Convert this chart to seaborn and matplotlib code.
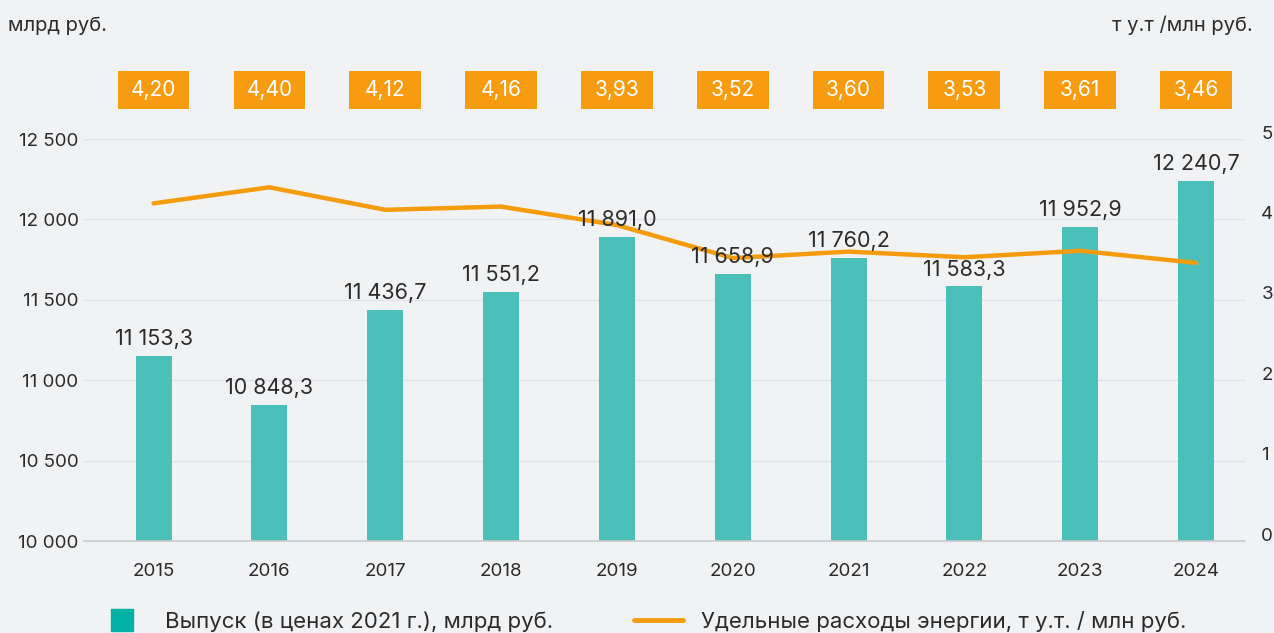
import pandas as pd
import seaborn as sns
import matplotlib.pyplot as plt
import matplotlib.transforms as mtransforms
from matplotlib.lines import Line2D
from matplotlib.patches import Rectangle

# Data
years = ['2015', '2016', '2017', '2018', '2019', '2020', '2021', '2022', '2023', '2024']
output = [11153.3, 10848.3, 11436.7, 11551.2, 11891.0, 11658.9, 11760.2, 11583.3, 11952.9, 12240.7]
intensity = [4.20, 4.40, 4.12, 4.16, 3.93, 3.52, 3.60, 3.53, 3.61, 3.46]

bar_color = '#4cbfba'
legend_bar_color = '#00b2a6'
line_color = '#f59c0d'
box_color = '#f79c10'
bg = '#f1f2f4'
text_color = '#2b2b2b'

df = pd.DataFrame({'year': years, 'output': output, 'intensity': intensity})

sns.set_style('white')
plt.rcParams['font.family'] = ['Inter', 'DejaVu Sans']

fig = plt.figure(figsize=(12.74, 6.33), dpi=100, facecolor=bg)
ax = fig.add_axes([0.066, 0.1453, 0.911, 0.635])
ax.set_facecolor(bg)

sns.barplot(data=df, x='year', y='output', color=bar_color, width=0.31,
            saturation=1, linewidth=0, ax=ax, zorder=2)
ax.set_ylim(10000, 12500)
ax.set_yticks([10000, 10500, 11000, 11500, 12000, 12500])
ax.set_yticklabels(['10 000', '10 500', '11 000', '11 500', '12 000', '12 500'])
ax.yaxis.grid(True, color='#e1e2e5', lw=1)
ax.set_axisbelow(True)
for s in ['top', 'right', 'left']:
    ax.spines[s].set_visible(False)
ax.spines['bottom'].set_color('#c9cacd')
ax.spines['bottom'].set_linewidth(1.2)
ax.tick_params(axis='y', length=0, pad=4, labelsize=13.5, labelcolor=text_color)
ax.tick_params(axis='x', length=0, pad=16, labelsize=13.5, labelcolor=text_color)
ax.set_xlabel('')
ax.set_ylabel('')
ax.set_xlim(-0.6, 9.42)

ax2 = ax.twinx()
sns.lineplot(data=df, x='year', y='intensity', color=line_color, lw=3.2,
             ax=ax2, zorder=4)
ax2.set_ylim(0, 5)
ax2.set_yticks([0, 1, 2, 3, 4, 5])
ax2.set_ylabel('')
ax2.grid(False)
for s in ax2.spines.values():
    s.set_visible(False)
ax2.tick_params(axis='y', length=0, pad=12, labelsize=13.5, labelcolor=text_color)
shift = mtransforms.ScaledTranslation(0, 7 / 100, fig.dpi_scale_trans)
for lab in ax2.get_yticklabels():
    lab.set_transform(lab.get_transform() + shift)


def fmt(v):
    return f'{v:,.1f}'.replace(',', ' ').replace('.', ',')


# bar value labels drawn on top of the line
for i, v in enumerate(output):
    ax2.annotate(fmt(v), (i, v), xycoords=ax.transData, xytext=(0, 5),
                 textcoords='offset points', ha='center', va='bottom',
                 fontsize=15.5, color=text_color, zorder=6)

# orange value boxes above the plot
trans = ax.get_xaxis_transform()
for i, v in enumerate(intensity):
    ax.add_patch(Rectangle((i - 0.31, 1.122 - 0.047), 0.62, 0.094, transform=trans,
                           fc=box_color, ec='none', clip_on=False))
    ax.text(i, 1.122, f'{v:.2f}'.replace('.', ','), transform=trans,
            ha='center', va='center', fontsize=15, color='white')

fig.text(0.006, 0.96, 'млрд руб.', ha='left', va='center', fontsize=14.5, color=text_color)
fig.text(0.983, 0.96, 'т у.т /млн руб.', ha='right', va='center', fontsize=14.5, color=text_color)

handles = [Line2D([0], [0], color=legend_bar_color, marker='s', markersize=16, lw=0),
           Line2D([0], [0], color=line_color, lw=3.5)]
labels = ['Выпуск (в ценах 2021 г.), млрд руб.', 'Удельные расходы энергии, т у.т. / млн руб.']
fig.legend(handles, labels, loc='lower left', bbox_to_anchor=(0.061, -0.03), ncol=2,
           frameon=False, fontsize=16, columnspacing=3.6, handlelength=2.2,
           handletextpad=0.85, labelcolor=text_color)

fig.savefig('out.png', dpi=100, facecolor=bg)
